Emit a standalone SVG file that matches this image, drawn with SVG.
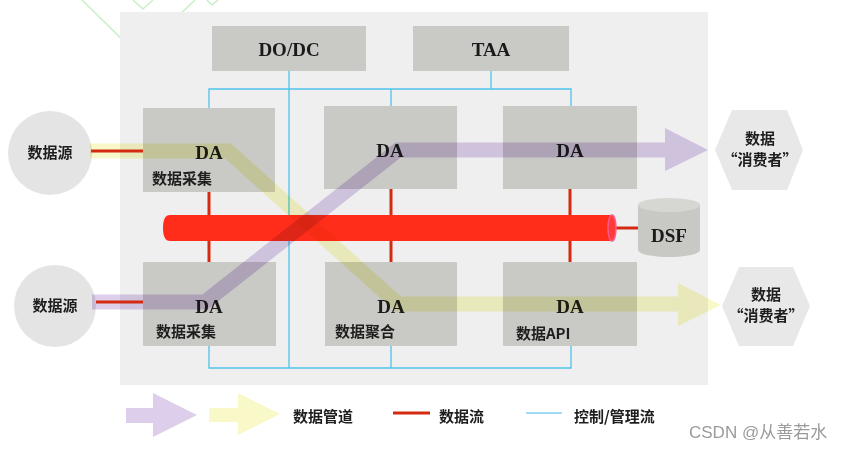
<svg xmlns="http://www.w3.org/2000/svg" width="841" height="451" viewBox="0 0 841 451">
<style>
.box{fill:#c9c9c5}
.hdr{font-family:"Liberation Serif","Times New Roman",serif;font-weight:bold;font-size:19px;fill:#1a1a1a;text-anchor:middle}
.cn{font-family:"Noto Sans CJK SC",sans-serif;font-weight:bold;font-size:15px;fill:#1e1e1e}
.cnm{font-family:"Noto Sans CJK SC",sans-serif;font-weight:bold;font-size:15px;fill:#1e1e1e;text-anchor:middle}
.ctl{fill:none;stroke:#4ec3ea;stroke-width:1.3}
.red{fill:none;stroke:#d42a12;stroke-width:3}
.deco{fill:none;stroke:#c8f0c8;stroke-width:1.5}
.mul{mix-blend-mode:multiply}
.pur{fill:#ddcfec}
.yel{fill:#f8f8c8}
</style>
<rect width="841" height="451" fill="#ffffff"/>
<g id="deco">
<polyline class="deco" points="82,0 138,55 195,0"/>
<polyline class="deco" points="133,0 143,9 153,0"/>
<polyline class="deco" points="207,0 212,5 218,0"/>
</g>
<rect id="panel" x="120" y="12" width="588" height="373" fill="#efefef"/>
<g id="connectors">
<polyline class="ctl" points="289,71 289,368"/>
<polyline class="ctl" points="209,108 209,89 571,89 571,106"/>
<polyline class="ctl" points="491,71 491,89"/>
<polyline class="ctl" points="391,89 391,106"/>
<polyline class="ctl" points="209,346 209,368 571,368 571,346"/>
<polyline class="ctl" points="391,346 391,368"/>
<line class="red" x1="209" y1="192" x2="209" y2="262"/>
<line class="red" x1="391" y1="189" x2="391" y2="262"/>
<line class="red" x1="570" y1="189" x2="570" y2="262"/>
<line class="red" x1="612" y1="228" x2="640" y2="228"/>
</g>
<g id="dodc"><rect class="box" x="212" y="26" width="154" height="45"/><text class="hdr" x="289" y="56">DO/DC</text></g>
<g id="taa"><rect class="box" x="413" y="26" width="156" height="45"/><text class="hdr" x="491" y="56">TAA</text></g>
<g id="da1"><rect class="box" x="143" y="108" width="132" height="84"/><text class="hdr" x="209" y="159">DA</text><text class="cn" x="152" y="184">数据采集</text></g>
<g id="da2"><rect class="box" x="324" y="106" width="133" height="83"/><text class="hdr" x="390" y="157">DA</text></g>
<g id="da3"><rect class="box" x="503" y="106" width="134" height="83"/><text class="hdr" x="570" y="157">DA</text></g>
<g id="da4"><rect class="box" x="143" y="262" width="133" height="84"/><text class="hdr" x="209" y="313">DA</text><text class="cn" x="156" y="337">数据采集</text></g>
<g id="da5"><rect class="box" x="325" y="262" width="132" height="84"/><text class="hdr" x="391" y="313">DA</text><text class="cn" x="335" y="337">数据聚合</text></g>
<g id="da6"><rect class="box" x="503" y="262" width="134" height="84"/><text class="hdr" x="570" y="313">DA</text><text class="cn" x="516" y="339">数据API</text></g>
<g id="bus">
<path d="M170,215 H612 V241 H170 Q163,241 163,228 Q163,215 170,215 Z" fill="#ff2d1a"/>
<ellipse cx="612" cy="228" rx="4" ry="13" fill="#ff3a3a" stroke="#ff5a8a" stroke-width="1.5"/>
</g>
<g id="dsf">
<path d="M638,205 V250 A31,7 0 0 0 700,250 V205 Z" fill="#c8c8c4"/>
<ellipse cx="669" cy="205" rx="31" ry="7" fill="#d6d6d2"/>
<text class="hdr" x="669" y="242">DSF</text>
</g>
<g id="src1"><circle cx="50" cy="153" r="42" fill="#e4e4e4"/><text class="cnm" x="50" y="158">数据源</text></g>
<g id="src2"><circle cx="55" cy="306" r="41" fill="#e4e4e4"/><text class="cnm" x="55" y="311">数据源</text></g>
<g id="cons1"><polygon points="715,150 732,110 787,110 803,150 787,190 732,190" fill="#e8e8e8"/><text class="cnm" x="760" y="144">数据</text><text class="cnm" x="760" y="165">“消费者”</text></g>
<g id="cons2"><polygon points="722,306 739,267 793,267 810,306 793,346 739,346" fill="#e8e8e8"/><text class="cnm" x="766" y="300">数据</text><text class="cnm" x="766" y="321">“消费者”</text></g>
<g id="pipes">
<g class="mul">
<polyline points="92,302 205,302 398,150 668,150" fill="none" stroke="#ddcfec" stroke-width="15" stroke-linejoin="miter"/>
<polygon class="pur" points="665,128 708,150 665,171"/>
</g>
<g class="mul">
<polyline points="90,151 228,151 398,304 682,304" fill="none" stroke="#f8f8c8" stroke-width="15" stroke-linejoin="miter"/>
<polygon class="yel" points="678,283 721,305 678,326"/>
</g>
</g>
<g id="srclines">
<line class="red" x1="91" y1="151" x2="143" y2="151"/>
<line class="red" x1="96" y1="302" x2="143" y2="302"/>
</g>
<g id="legend">
<polygon class="pur" points="126,408 153,408 153,393 197,415 153,437 153,423 126,423"/>
<polygon class="yel" points="209,408 238,408 238,393 280,414 238,435 238,422 209,422"/>
<text class="cn" x="293" y="422">数据管道</text>
<line class="red" x1="393" y1="413" x2="430" y2="413"/>
<text class="cn" x="439" y="422">数据流</text>
<line x1="526" y1="413" x2="562" y2="413" stroke="#7fd0f0" stroke-width="1.3"/>
<text class="cn" x="574" y="422">控制/管理流</text>
</g>
<text x="689" y="438" font-family="'Liberation Sans','Noto Sans CJK SC',sans-serif" font-size="17" fill="#9a9a9a">CSDN @从善若水</text>
</svg>
